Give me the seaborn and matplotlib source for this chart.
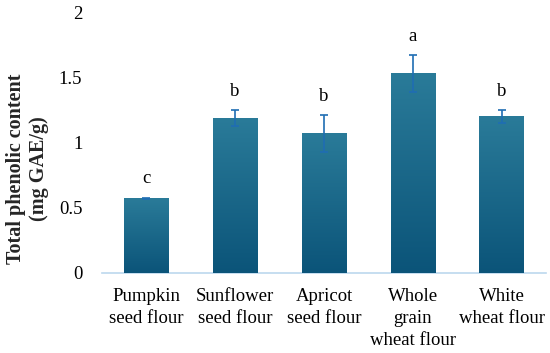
import matplotlib
matplotlib.use("Agg")
import matplotlib.pyplot as plt
import seaborn as sns
import numpy as np
import pandas as pd

# data
flours = ["Pumpkin\nseed flour", "Sunflower\nseed flour", "Apricot\nseed flour",
          "Whole\ngrain\nwheat flour", "White\nwheat flour"]
phenolic = [0.57, 1.19, 1.07, 1.53, 1.20]
errors = [0.005, 0.06, 0.14, 0.14, 0.05]
letters = ["c", "b", "b", "a", "b"]

df = pd.DataFrame({"flour": flours, "tpc": phenolic})

sns.set_theme(style="white")
plt.rcParams["font.family"] = ["Liberation Serif", "DejaVu Serif"]

fig = plt.figure(figsize=(5.5, 3.53), dpi=100)
ax = fig.add_axes([0.185, 0.228, 0.808, 0.737])

sns.barplot(data=df, x="flour", y="tpc", color="#10608a", width=0.5,
            errorbar=None, ax=ax, zorder=2)

# vertical gradient on each bar (lighter at top)
grad = np.linspace(0, 1, 256).reshape(-1, 1)
cmap = matplotlib.colors.LinearSegmentedColormap.from_list(
    "bar", ["#0b5479", "#2a7b99"])
for p in ax.patches:
    x0, y0 = p.get_x(), p.get_y()
    w, h = p.get_width(), p.get_height()
    im = ax.imshow(grad, extent=[x0, x0 + w, y0, y0 + h], origin="lower",
                   cmap=cmap, aspect="auto", zorder=3)
    im.set_clip_path(p)

xs = np.arange(len(flours))
ax.errorbar(xs, phenolic, yerr=errors, fmt="none", ecolor="#1f6db3",
            elinewidth=1.2, capsize=3, capthick=1.2, zorder=4)

for x, v, e, t in zip(xs, phenolic, errors, letters):
    ax.text(x, v + e + 0.08, t, ha="center", va="bottom", fontsize=13.5,
            color="black")

ax.set_xlim(-0.5, len(flours) - 0.5)
ax.set_ylim(0, 2)
ax.set_yticks([0, 0.5, 1, 1.5, 2])
ax.set_yticklabels(["0", "0.5", "1", "1.5", "2"])
ax.tick_params(axis="both", length=0, labelsize=13.5, colors="black")
ax.tick_params(axis="x", pad=11)
ax.tick_params(axis="y", pad=14)
for lab in ax.get_xticklabels():
    lab.set_linespacing(1.4)
ax.set_xlabel("")
ax.set_ylabel("Total phenolic content\n(mg GAE/g)", fontsize=14.5,
              fontweight="bold", linespacing=1.2, va="center", ha="center")
ax.yaxis.set_label_coords(-0.168, 0.40)

for s in ["top", "right", "left"]:
    ax.spines[s].set_visible(False)
ax.spines["bottom"].set_color("#bcd8ee")
ax.spines["bottom"].set_linewidth(1.2)
ax.set_facecolor("white")

fig.savefig("out.png", dpi=100)
